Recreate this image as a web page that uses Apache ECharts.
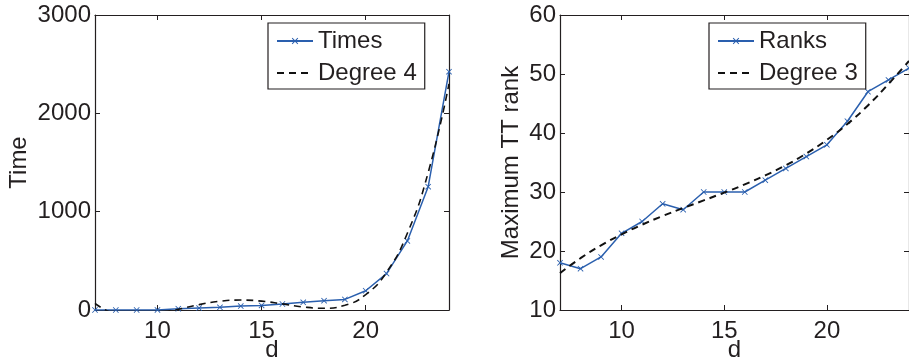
<!DOCTYPE html>
<html>
<head>
<meta charset="utf-8">
<script src="https://cdn.jsdelivr.net/npm/echarts@6/dist/echarts.min.js"></script>
<style>
html,body{margin:0;padding:0;background:#fff;}
#chart{width:909px;height:363px;}
</style>
</head>
<body>
<div id="chart"></div>
<script>
// ---- data ----
const dims = [7, 8, 9, 10, 11, 12, 13, 14, 15, 16, 17, 18, 19, 20, 21, 22, 23, 24];
const times = [0, 0, 0, 1, 13, 20, 27, 40, 47, 61, 78, 95, 108, 196, 370, 702, 1254, 2424];
const timesFit = [68, -42, -67, -41, 7, 55, 89, 101, 90, 62, 31, 18, 48, 156, 384, 780, 1398, 2300];
const ranks = [18, 17, 19, 23, 25, 28, 27, 30, 30, 30, 32, 34, 36, 38, 42, 47, 49, 51];
const ranksFit = [16.25, 18.78, 20.95, 22.82, 24.46, 25.93, 27.28, 28.58, 29.90, 31.29, 32.82, 34.54, 36.53, 38.84, 41.53, 44.67, 48.31, 52.2];
const xTicks = [10, 15, 20];
const timeTicks = [0, 1000, 2000, 3000];
const rankTicks = [10, 20, 30, 40, 50, 60];
const names = { times: 'Times', timesFit: 'Degree 4', ranks: 'Ranks', ranksFit: 'Degree 3' };

const pairs = (xs, ys) => xs.map((x, i) => [x, ys[i]]);

const FONT = 'Liberation Sans, Arial, Helvetica, sans-serif';
const TXT = '#231f20';
const BLUE = '#2a5fae';
const FS = 24;
const cross = 'path://M0,1L1,0L5,4L9,0L10,1L6,5L10,9L9,10L5,6L1,10L0,9L4,5Z';

function xAxis(gi, pos, withLabels) {
  return {
    type: 'value', gridIndex: gi, position: pos,
    min: dims[0], max: dims[dims.length - 1], splitNumber: 3,
    axisLine: { show: true, onZero: false, lineStyle: { color: TXT, width: 1.2 } },
    axisTick: { show: true, inside: true, length: 5, lineStyle: { color: TXT, width: 1 } },
    axisLabel: {
      show: withLabels, margin: 9, fontSize: FS, fontFamily: FONT, color: TXT,
      formatter: v => (xTicks.indexOf(v) >= 0 ? String(v) : '')
    },
    splitLine: { show: false },
    name: withLabels ? 'd' : '', nameLocation: 'middle', nameGap: 28, nameMoveOverlap: false,
    nameTextStyle: { fontSize: FS, fontFamily: FONT, color: TXT }
  };
}
function yAxis(gi, pos, ticks, withLabels, name, gap) {
  return {
    type: 'value', gridIndex: gi, position: pos,
    min: ticks[0], max: ticks[ticks.length - 1], interval: ticks[1] - ticks[0],
    axisLine: { show: true, onZero: false, lineStyle: { color: TXT, width: 1.2 } },
    axisTick: { show: true, inside: true, length: 5, lineStyle: { color: TXT, width: 1 } },
    axisLabel: { show: withLabels, margin: 4, fontSize: FS, fontFamily: FONT, color: TXT,
      formatter: v => String(v) },
    splitLine: { show: false },
    name: withLabels ? name : '', nameLocation: 'middle', nameGap: gap, nameRotate: 90,
    nameMoveOverlap: false,
    nameTextStyle: { fontSize: FS, fontFamily: FONT, color: TXT }
  };
}
function legend(left, top, data) {
  return {
    data: data, orient: 'vertical', left: left, top: top,
    backgroundColor: '#fff', borderColor: TXT, borderWidth: 1.2, borderRadius: 0,
    padding: [5, 8, 3, 8], itemWidth: 36, itemHeight: 8, itemGap: 6,
    textStyle: { fontSize: FS, fontFamily: FONT, color: TXT, lineHeight: 26 },
    selectedMode: false
  };
}

const chart = echarts.init(document.getElementById('chart'), null, { renderer: 'canvas' });
chart.setOption({
  animation: false,
  backgroundColor: '#fff',
  grid: [
    { left: 95, top: 15, width: 354, height: 295, outerBoundsMode: 'none', containLabel: false },
    { left: 560, top: 15, width: 349, height: 295, outerBoundsMode: 'none', containLabel: false }
  ],
  xAxis: [xAxis(0, 'bottom', true), xAxis(1, 'bottom', true), xAxis(0, 'top', false), xAxis(1, 'top', false)],
  yAxis: [
    yAxis(0, 'left', timeTicks, true, 'Time', 64),
    yAxis(1, 'left', rankTicks, true, 'Maximum TT rank', 37),
    yAxis(0, 'right', timeTicks, false, '', 0),
    yAxis(1, 'right', rankTicks, false, '', 0)
  ],
  legend: [
    legend(268, 23, [names.times, { name: names.timesFit, itemStyle: { opacity: 0 } }]),
    legend(709, 23, [names.ranks, { name: names.ranksFit, itemStyle: { opacity: 0 } }])
  ],
  series: [
    {
      name: names.times, type: 'line', xAxisIndex: 0, yAxisIndex: 0,
      data: pairs(dims, times), symbol: cross, symbolSize: 6, showSymbol: true,
      lineStyle: { color: BLUE, width: 1.5 }, itemStyle: { color: BLUE }, clip: true, z: 2
    },
    {
      name: names.timesFit, type: 'line', xAxisIndex: 0, yAxisIndex: 0,
      data: pairs(dims, timesFit), smooth: 0.5, symbol: 'none',
      lineStyle: { color: '#111', width: 1.6, type: [7, 5] }, itemStyle: { color: '#111' }, clip: true, z: 3
    },
    {
      name: names.ranks, type: 'line', xAxisIndex: 1, yAxisIndex: 1,
      data: pairs(dims, ranks), symbol: cross, symbolSize: 6, showSymbol: true,
      lineStyle: { color: BLUE, width: 1.5 }, itemStyle: { color: BLUE }, clip: false, z: 2
    },
    {
      name: names.ranksFit, type: 'line', xAxisIndex: 1, yAxisIndex: 1,
      data: pairs(dims, ranksFit), smooth: 0.5, symbol: 'none',
      lineStyle: { color: '#111', width: 2, type: [7, 5] }, itemStyle: { color: '#111' }, clip: true, z: 3
    }
  ]
});
</script>
</body>
</html>
